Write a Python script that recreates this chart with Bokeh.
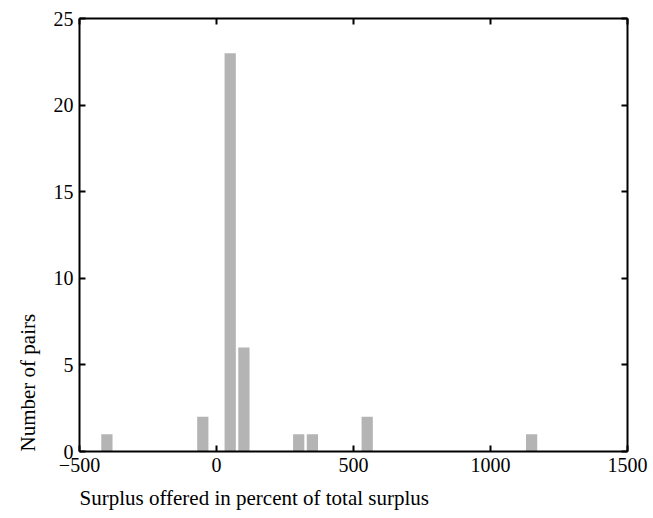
from bokeh.plotting import figure
from bokeh.models import LinearAxis, FixedTicker, Title, Range1d
from bokeh.embed import file_html
from bokeh.resources import INLINE

# Data: histogram bins (percent of total surplus) and counts
bin_centers = [-400, -50, 50, 100, 300, 350, 550, 1150]
pair_counts = [1, 2, 23, 6, 1, 1, 2, 1]
bar_width = 41
x_ticks = [-500, 0, 500, 1000, 1500]
y_ticks = [0, 5, 10, 15, 20, 25]
x_label = "Surplus offered in percent of total surplus"
y_label = "Number of pairs"

FONT = "Liberation Serif"
TICK_FS = "20px"
LABEL_FS = "21px"

p = figure(width=653, height=518, output_backend="svg", toolbar_location=None,
           x_range=Range1d(-500, 1500), y_range=Range1d(0, 25),
           x_axis_location=None, y_axis_location=None,
           min_border_left=79, min_border_right=26, min_border_top=18, min_border_bottom=67)
p.grid.visible = False
p.outline_line_color = None
p.background_fill_color = "white"
p.border_fill_color = "white"

p.vbar(x=bin_centers, top=pair_counts, width=bar_width, bottom=0,
       fill_color="#b4b4b4", line_color=None)

def make_axis(cls_ticks, show_labels):
    ax = LinearAxis(ticker=FixedTicker(ticks=cls_ticks))
    ax.major_tick_in = 6
    ax.major_tick_out = 0
    ax.minor_tick_line_color = None
    ax.axis_line_color = "black"
    ax.axis_line_width = 2
    ax.major_tick_line_color = "black"
    ax.major_tick_line_width = 2
    if show_labels:
        ax.major_label_text_font = FONT
        ax.major_label_text_font_size = TICK_FS
        ax.major_label_text_color = "black"
        ax.major_label_standoff = 6
    else:
        ax.major_label_overrides = {t: "" for t in cls_ticks}
        ax.major_label_text_font_size = "0px"
        ax.major_label_standoff = 0
    return ax

p.add_layout(make_axis(x_ticks, True), "below")
p.add_layout(make_axis(y_ticks, True), "left")
p.add_layout(make_axis(x_ticks, False), "above")
p.add_layout(make_axis(y_ticks, False), "right")

xt = Title(text=x_label, align="left", text_font=FONT, text_font_size=LABEL_FS,
           text_font_style="normal", text_color="black", standoff=18)
p.add_layout(xt, "below")
yt = Title(text=y_label, align="left", text_font=FONT, text_font_size=LABEL_FS,
           text_font_style="normal", text_color="black", standoff=22)
p.add_layout(yt, "left")

open("out.html", "w").write(file_html(p, INLINE))
